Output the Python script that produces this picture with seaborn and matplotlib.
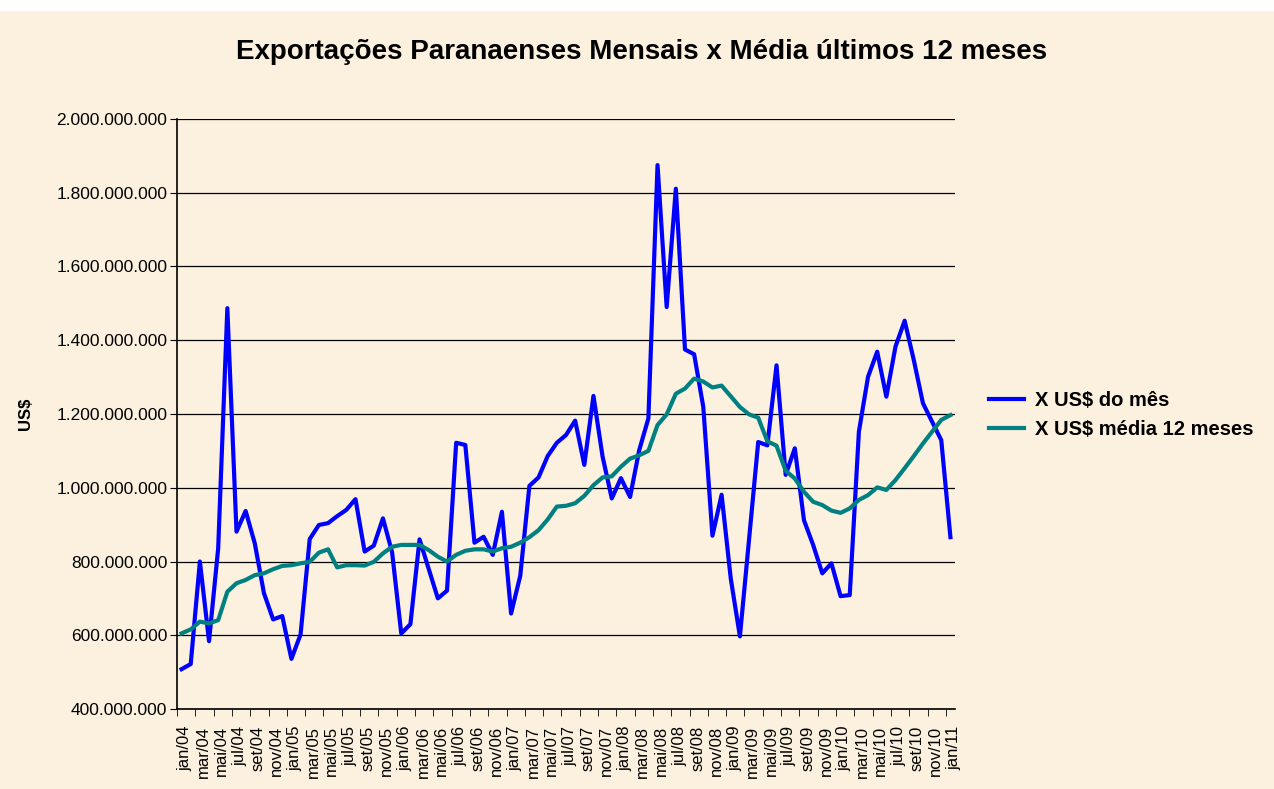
import matplotlib
matplotlib.use("Agg")
import matplotlib.pyplot as plt
import matplotlib.ticker as mticker
import seaborn as sns
import pandas as pd

# valores em milhões de US$
mensal = [508, 522, 800, 584, 836, 1487, 881, 937, 849, 714,
          643, 652, 536, 602, 861, 899, 904, 923, 940, 969,
          827, 843, 917, 825, 605, 630, 860, 780, 700, 721,
          1122, 1116, 851, 867, 818, 935, 659, 761, 1005, 1028,
          1086, 1122, 1143, 1182, 1062, 1249, 1084, 971, 1026, 975,
          1102, 1188, 1875, 1490, 1811, 1375, 1362, 1219, 870, 981,
          754, 597, 860, 1124, 1115, 1332, 1035, 1107, 912, 845,
          768, 795, 706, 709, 1152, 1301, 1369, 1247, 1383, 1453,
          1346, 1229, 1179, 1129, 866]

media12 = [605, 616, 637, 632, 641, 718, 741, 750, 763, 768,
           779, 788, 790, 795, 799, 824, 833, 784, 790, 790,
           789, 799, 822, 840, 845, 845, 845, 831, 813, 800,
           818, 829, 833, 833, 827, 836, 840, 851, 866, 885,
           914, 949, 951, 958, 978, 1007, 1028, 1031, 1057, 1079,
           1088, 1100, 1170, 1199, 1255, 1269, 1296, 1288, 1272, 1277,
           1248, 1219, 1199, 1190, 1126, 1114, 1046, 1025, 989, 962,
           953, 938, 932, 944, 967, 980, 1001, 994, 1021, 1053,
           1086, 1120, 1152, 1184, 1197]

meses = ["jan", "fev", "mar", "abr", "mai", "jun",
         "jul", "ago", "set", "out", "nov", "dez"]
anos = ["04", "05", "06", "07", "08", "09", "10", "11"]
rotulos = [f"{m}/{a}" for a in anos for m in meses][:len(mensal)]

serie_mes = "X US$ do mês"
serie_media = "X US$ média 12 meses"

df = pd.DataFrame({
    "pos": list(range(len(mensal))) * 2,
    "valor": [v * 1e6 for v in mensal] + [v * 1e6 for v in media12],
    "serie": [serie_mes] * len(mensal) + [serie_media] * len(media12),
})

fundo = "#FBF1DE"
plt.rcParams["font.family"] = ["Liberation Sans", "DejaVu Sans"]

fig = plt.figure(figsize=(12.74, 7.89), dpi=100, facecolor=fundo)
ax = fig.add_axes([177 / 1274, 1 - 709 / 789, 778 / 1274, 590 / 789])
ax.set_facecolor(fundo)

# faixa branca no topo
fig.patches.append(plt.Rectangle((0, 1 - 10 / 789), 1, 10 / 789,
                                 transform=fig.transFigure, color="white", zorder=0))

sns.lineplot(data=df, x="pos", y="valor", hue="serie", ax=ax,
             palette={serie_mes: "#0000FF", serie_media: "#008080"},
             linewidth=3.0, legend=True)

ax.set_xlim(-0.5, len(mensal) - 0.5)
ax.set_ylim(400e6, 2000e6)
ax.yaxis.set_major_locator(mticker.MultipleLocator(200e6))
ax.yaxis.set_major_formatter(mticker.FuncFormatter(
    lambda v, p: f"{v:,.0f}".replace(",", ".")))
ax.grid(axis="y", color="black", linewidth=0.9)
ax.set_axisbelow(True)

# marcas entre categorias, rótulos a cada 2 meses
ax.set_xticks([i - 0.5 for i in range(0, len(mensal) + 1, 2)], minor=True)
ax.set_xticks([i + 0.4 for i in range(0, len(mensal), 2)])
ax.set_xticklabels(rotulos[::2], rotation=90, fontsize=12)
ax.tick_params(axis="x", which="major", length=0, pad=12)
ax.tick_params(axis="x", which="minor", length=5, color="black")
ax.tick_params(axis="y", length=5, labelsize=12.5, pad=2)

for s in ["top", "right"]:
    ax.spines[s].set_visible(False)
for s in ["left", "bottom"]:
    ax.spines[s].set_color("black")
    ax.spines[s].set_linewidth(1.2)

ax.set_xlabel("")
ax.set_ylabel("US$", fontsize=12, fontweight="bold")
ax.yaxis.set_label_coords(-144 / 778, 0.5)

fig.text(642 / 1274, 1 - 52 / 789,
         "Exportações Paranaenses Mensais x Média últimos 12 meses",
         ha="center", va="center", fontsize=20, fontweight="bold")

ax.legend_.remove()
handles, labels = ax.get_legend_handles_labels()
fig.legend(handles, labels, loc="center left",
           bbox_to_anchor=(989 / 1274, 1 - 415 / 789),
           frameon=False, borderpad=0, borderaxespad=0,
           handlelength=1.75, handletextpad=0.55, labelspacing=0.5,
           prop={"size": 14.5, "weight": "bold"})

fig.savefig("out.png", dpi=100, facecolor=fundo)
